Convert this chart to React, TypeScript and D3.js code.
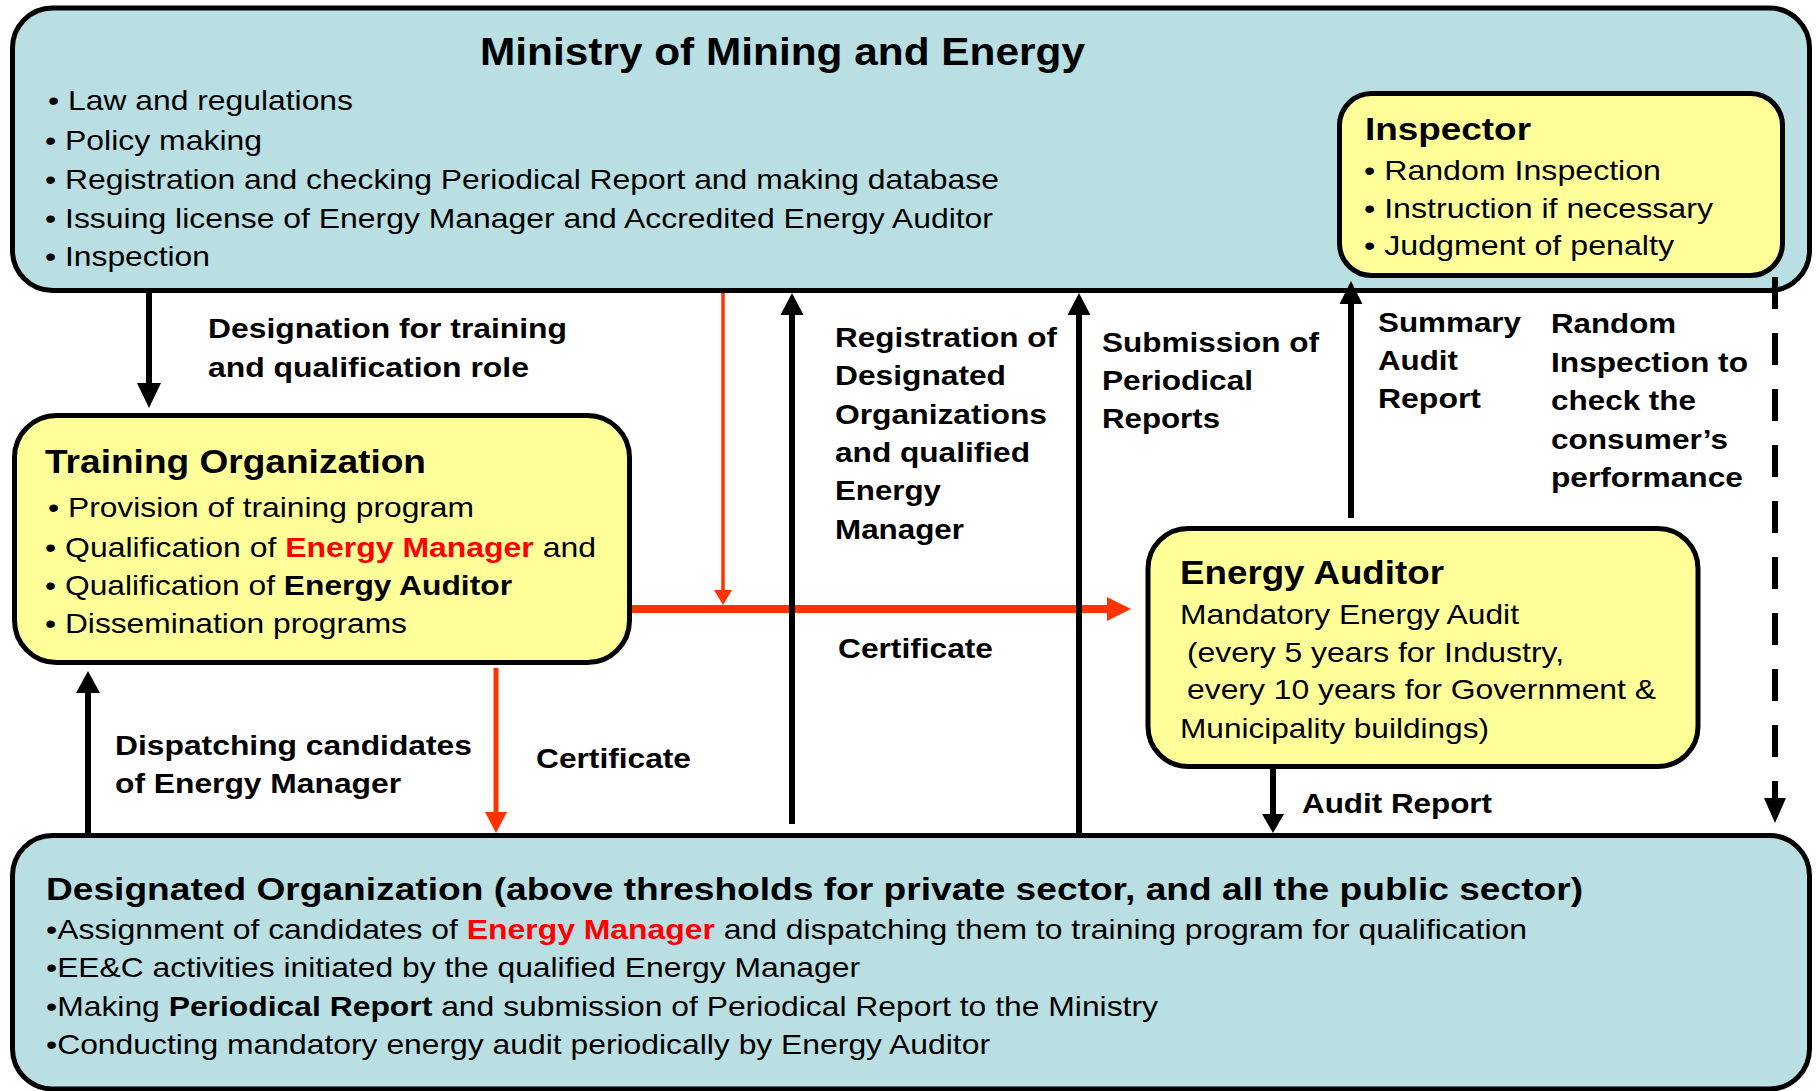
import React from "react";
import * as d3 from "d3";

// ---------- content ----------
type Seg = { t: string; b?: boolean; red?: boolean };

const ministryTitle = "Ministry of Mining and Energy";
const ministryItems = [
  "• Law and regulations",
  "• Policy making",
  "• Registration and checking Periodical Report and making database",
  "• Issuing license of Energy Manager and Accredited Energy Auditor",
  "• Inspection",
];
const inspectorTitle = "Inspector";
const inspectorItems = ["• Random Inspection", "• Instruction if necessary", "• Judgment of penalty"];
const trainingTitle = "Training Organization";
const trainingItems: Seg[][] = [
  [{ t: "• Provision of training program" }],
  [{ t: "• Qualification of " }, { t: "Energy Manager", b: true, red: true }, { t: " and" }],
  [{ t: "• Qualification of " }, { t: "Energy Auditor", b: true }],
  [{ t: "• Dissemination programs" }],
];
const auditorTitle = "Energy Auditor";
const auditorItems = [
  "Mandatory Energy Audit",
  "(every 5 years for Industry,",
  "every 10 years for Government &",
  "Municipality buildings)",
];
const designatedTitle =
  "Designated Organization (above thresholds for private sector, and all the public sector)";
const designatedItems: Seg[][] = [
  [
    { t: "•Assignment of candidates of " },
    { t: "Energy Manager", b: true, red: true },
    { t: " and dispatching them to training program for qualification" },
  ],
  [{ t: "•EE&C activities initiated by the qualified Energy Manager" }],
  [{ t: "•Making " }, { t: "Periodical Report", b: true }, { t: " and submission of Periodical Report to the Ministry" }],
  [{ t: "•Conducting mandatory energy audit periodically by Energy Auditor" }],
];
const labelDesignation = ["Designation for training", "and qualification role"];
const labelRegistration = ["Registration of", "Designated", "Organizations", "and qualified", "Energy", "Manager"];
const labelSubmission = ["Submission of", "Periodical", "Reports"];
const labelSummary = ["Summary", "Audit", "Report"];
const labelRandom = ["Random", "Inspection to", "check the", "consumer’s", "performance"];
const labelDispatch = ["Dispatching candidates", "of Energy Manager"];
const labelCertificate = "Certificate";
const labelAuditReport = "Audit Report";

// ---------- layout ----------
const W = 1819;
const H = 1091;
const FONT = "'Liberation Sans', Arial, Helvetica, sans-serif";
const BLUE = "#b9dfe3";
const YELLOW = "#ffff99";
const RED_ARROW = "#ff3300";
const RED_TEXT = "#ff0000";

const line = d3.line<[number, number]>();

function TextLine({
  x, y, segs, size, bold, width, color = "#000",
}: { x: number; y: number; segs: Seg[]; size: number; bold?: boolean; width?: number; color?: string }) {
  return (
    <text
      x={x}
      y={y}
      fontFamily={FONT}
      fontSize={size}
      fontWeight={bold ? "bold" : "normal"}
      fill={color}
      textLength={width}
      lengthAdjust="spacingAndGlyphs"
      style={{ whiteSpace: "pre" }}
    >
      {segs.map((s, i) => (
        <tspan key={i} fontWeight={s.b || bold ? "bold" : "normal"} fill={s.red ? RED_TEXT : color}>
          {s.t}
        </tspan>
      ))}
    </text>
  );
}

function Box({ x0, y0, x1, y1, r, fill, sw = 5 }: { x0: number; y0: number; x1: number; y1: number; r: number; fill: string; sw?: number }) {
  return <rect x={x0} y={y0} width={x1 - x0} height={y1 - y0} rx={r} ry={r} fill={fill} stroke="#000" strokeWidth={sw} />;
}

// straight arrow from (x1,y1) with its tip at (x2,y2)
function Arrow({
  x1, y1, x2, y2, color = "#000", sw = 6, headLen = 23, headHalf = 12, dash,
}: { x1: number; y1: number; x2: number; y2: number; color?: string; sw?: number; headLen?: number; headHalf?: number; dash?: string }) {
  const dx = x2 - x1, dy = y2 - y1;
  const L = Math.hypot(dx, dy);
  const ux = dx / L, uy = dy / L;
  const bx = x2 - ux * headLen, by = y2 - uy * headLen;
  const px = -uy, py = ux;
  const shaft = line([[x1, y1], [bx + ux * 1, by + uy * 1]]) || "";
  const head = (line([[x2, y2], [bx + px * headHalf, by + py * headHalf], [bx - px * headHalf, by - py * headHalf]]) || "") + "Z";
  return (
    <g>
      <path d={shaft} stroke={color} strokeWidth={sw} fill="none" strokeDasharray={dash} />
      <path d={head} fill={color} stroke="none" />
    </g>
  );
}

function Label({ x, y0, step, lines, widths, size = 28 }: { x: number; y0: number; step: number; lines: string[]; widths: number[]; size?: number }) {
  return (
    <g>
      {lines.map((l, i) => (
        <TextLine key={i} x={x} y={y0 + i * step} segs={[{ t: l }]} size={size} bold width={widths[i]} />
      ))}
    </g>
  );
}

export default function App() {
  const ministryY = [110, 150, 189, 228, 266];
  const ministryEnd = [353, 262, 999, 993, 210];
  const inspectorY = [180, 218, 255];
  const inspectorEnd = [1661, 1713, 1674];
  const trainingY = [517, 557, 595, 633];
  const trainingEnd = [474, 596, 512, 407];
  const auditorY = [624, 662, 699, 738];
  const auditorX = [1180, 1187, 1187, 1180];
  const auditorEnd = [1519, 1564, 1656, 1489];
  const desigY = [939, 977, 1016, 1054];
  const desigEnd = [1527, 860, 1158, 990];

  return (
    <svg width={W} height={H} viewBox={`0 0 ${W} ${H}`} style={{ position: "absolute", left: 0, top: 0, background: "#fff" }}>
      <rect x={0} y={0} width={W} height={H} fill="#fff" />

      {/* Ministry */}
      <Box x0={12.5} y0={8} x1={1809.5} y1={290.5} r={40} fill={BLUE} />
      <TextLine x={480} y={65} segs={[{ t: ministryTitle }]} size={39} bold width={605} />
      {ministryItems.map((t, i) => (
        <TextLine key={i} x={i === 0 ? 48 : 45} y={ministryY[i]} segs={[{ t }]} size={28} width={ministryEnd[i] - (i === 0 ? 48 : 45)} />
      ))}

      {/* Inspector */}
      <Box x0={1339.5} y0={93.5} x1={1782.5} y1={275.5} r={32} fill={YELLOW} />
      <TextLine x={1365} y={140} segs={[{ t: inspectorTitle }]} size={32} bold width={166} />
      {inspectorItems.map((t, i) => (
        <TextLine key={i} x={1364} y={inspectorY[i]} segs={[{ t }]} size={28} width={inspectorEnd[i] - 1364} />
      ))}

      {/* Training Organization */}
      <Box x0={14.5} y0={415.5} x1={629.5} y1={662.5} r={42} fill={YELLOW} />
      <TextLine x={45} y={473} segs={[{ t: trainingTitle }]} size={34} bold width={381} />
      {trainingItems.map((segs, i) => (
        <TextLine key={i} x={i === 0 ? 48 : 45} y={trainingY[i]} segs={segs} size={28} width={trainingEnd[i] - (i === 0 ? 48 : 45)} />
      ))}

      {/* Energy Auditor */}
      <Box x0={1148} y0={528.5} x1={1698} y1={766.5} r={40} fill={YELLOW} />
      <TextLine x={1180} y={584} segs={[{ t: auditorTitle }]} size={34} bold width={264} />
      {auditorItems.map((t, i) => (
        <TextLine key={i} x={auditorX[i]} y={auditorY[i]} segs={[{ t }]} size={28} width={auditorEnd[i] - auditorX[i]} />
      ))}

      {/* Designated Organization */}
      <Box x0={12.5} y0={835.5} x1={1809.5} y1={1089} r={40} fill={BLUE} />
      <TextLine x={46} y={900} segs={[{ t: designatedTitle }]} size={32} bold width={1537} />
      {designatedItems.map((segs, i) => (
        <TextLine key={i} x={46} y={desigY[i]} segs={segs} size={28} width={desigEnd[i] - 46} />
      ))}

      {/* Arrows */}
      <Arrow x1={149} y1={293} x2={149} y2={408} headLen={25} headHalf={12} />
      <Arrow x1={723} y1={293} x2={723} y2={605} color={RED_ARROW} sw={3.5} headLen={15} headHalf={9} />
      <Arrow x1={632} y1={609} x2={1131} y2={609} color={RED_ARROW} sw={8} headLen={24} headHalf={12} />
      <Arrow x1={496} y1={668} x2={496} y2={833} color={RED_ARROW} sw={5} headLen={21} headHalf={11} />
      <Arrow x1={88} y1={834} x2={88} y2={671} headLen={22} headHalf={12} />
      <Arrow x1={792} y1={824} x2={792} y2={293} headLen={22} headHalf={11.5} />
      <Arrow x1={1079} y1={834} x2={1079} y2={293} headLen={22} headHalf={11.5} />
      <Arrow x1={1351} y1={518} x2={1351} y2={281} headLen={23} headHalf={11.5} />
      <Arrow x1={1273} y1={768} x2={1273} y2={833} headLen={19} headHalf={11} />
      <Arrow x1={1775} y1={277} x2={1775} y2={823} headLen={25} headHalf={11} sw={6} dash="32 24" />

      {/* Labels */}
      <Label x={208} y0={338} step={39} lines={labelDesignation} widths={[359, 321]} />
      <Label
        x={835}
        y0={347}
        step={38.3}
        lines={labelRegistration}
        widths={[222, 171, 212, 195, 106, 129]}
      />
      <Label x={1102} y0={352} step={38} lines={labelSubmission} widths={[217, 151, 118]} />
      <Label x={1378} y0={332} step={38} lines={labelSummary} widths={[143, 80, 103]} />
      <Label x={1551} y0={333} step={38.5} lines={labelRandom} widths={[125, 197, 145, 177, 192]} />
      <Label x={115} y0={755} step={38} lines={labelDispatch} widths={[357, 286]} />
      <TextLine x={838} y={658} segs={[{ t: labelCertificate }]} size={28} bold width={155} />
      <TextLine x={536} y={768} segs={[{ t: labelCertificate }]} size={28} bold width={155} />
      <TextLine x={1302} y={813} segs={[{ t: labelAuditReport }]} size={28} bold width={190} />
    </svg>
  );
}
